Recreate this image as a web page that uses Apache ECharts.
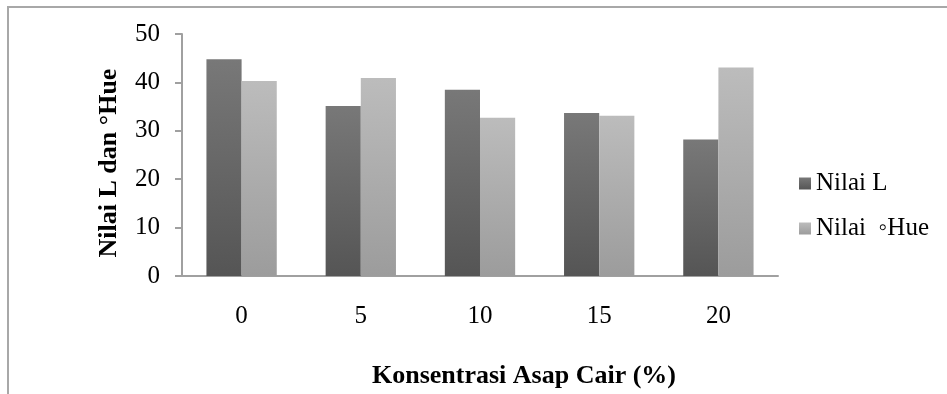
<!DOCTYPE html>
<html>
<head>
<meta charset="utf-8">
<script src="https://cdn.jsdelivr.net/npm/echarts@6/dist/echarts.min.js"></script>
<style>
  html, body { margin: 0; padding: 0; background: #fff; }
  #chart { width: 947px; height: 394px; }
</style>
</head>
<body>
<div id="chart"></div>
<script>
// Liquid smoke concentration (%) on the x axis
const categories = ['0', '5', '10', '15', '20'];
// L value and hue angle for each concentration
const nilaiL = [44.8, 35.1, 38.5, 33.7, 28.2];
const nilaiHue = [40.3, 40.9, 32.7, 33.1, 43.1];
const yTicks = { min: 0, max: 50, interval: 10 };

const serif = '"Liberation Serif", "Times New Roman", serif';

function vGrad(top, bottom) {
  return new echarts.graphic.LinearGradient(0, 0, 0, 1, [
    { offset: 0, color: top },
    { offset: 1, color: bottom }
  ]);
}

const chart = echarts.init(document.getElementById('chart'), null, { renderer: 'canvas' });

chart.setOption({
  animation: false,
  backgroundColor: '#ffffff',
  graphic: [{
    type: 'polyline',
    shape: { points: [[8, 400], [8, 7], [950, 7]] },
    style: { stroke: '#a8a8a8', lineWidth: 2, fill: null },
    silent: true
  }],
  grid: { left: 182, right: 169, top: 34, bottom: 112 },
  legend: {
    orient: 'vertical',
    left: 794,
    top: 166,
    itemWidth: 12,
    itemHeight: 12,
    itemGap: 20,
    icon: 'rect',
    textStyle: { fontFamily: serif, fontSize: 25, color: '#000' },
    data: ['Nilai L', 'Nilai  ◦Hue']
  },
  xAxis: {
    type: 'category',
    data: categories,
    name: 'Konsentrasi Asap Cair (%)',
    nameLocation: 'middle',
    nameGap: 87,
    nameTextStyle: {
      fontFamily: serif, fontSize: 26, fontWeight: 'bold', color: '#000',
      padding: [0, 0, 0, 88]
    },
    axisLine: { lineStyle: { color: '#a0a0a0', width: 2 } },
    axisTick: { show: false },
    axisLabel: { fontFamily: serif, fontSize: 25, color: '#000', margin: 28 }
  },
  yAxis: {
    type: 'value',
    min: yTicks.min,
    max: yTicks.max,
    interval: yTicks.interval,
    name: 'Nilai L dan °Hue',
    nameLocation: 'middle',
    nameGap: 60,
    nameRotate: 90,
    nameTextStyle: {
      fontFamily: serif, fontSize: 26, fontWeight: 'bold', color: '#000',
      padding: [0, 16, 0, 0]
    },
    axisLine: { show: true, lineStyle: { color: '#a0a0a0', width: 2 } },
    axisTick: { show: true, length: 7, lineStyle: { color: '#a0a0a0', width: 2 } },
    splitLine: { show: false },
    axisLabel: { fontFamily: serif, fontSize: 25, color: '#000', margin: 22 }
  },
  series: [
    {
      name: 'Nilai L',
      type: 'bar',
      data: nilaiL,
      barGap: '0%',
      barCategoryGap: '41%',
      itemStyle: { color: vGrad('#787878', '#555555') }
    },
    {
      name: 'Nilai  ◦Hue',
      type: 'bar',
      data: nilaiHue,
      itemStyle: { color: vGrad('#bcbcbc', '#9c9c9c') }
    }
  ]
});
</script>
</body>
</html>
